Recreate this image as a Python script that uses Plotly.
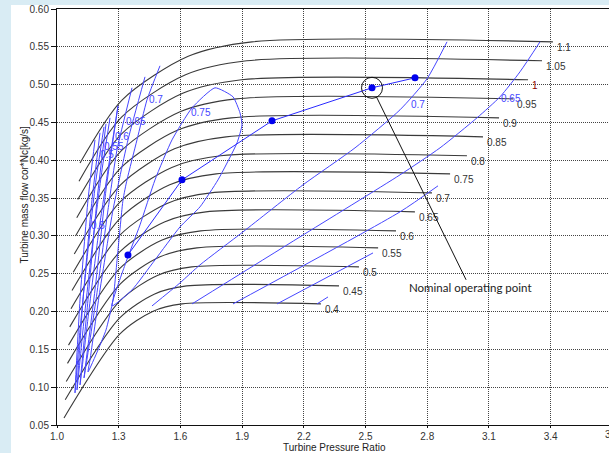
import plotly.graph_objects as go

# ---------------- data ----------------
speed_labels = ["0.4", "0.45", "0.5", "0.55", "0.6", "0.65", "0.7", "0.75",
                "0.8", "0.85", "0.9", "0.95", "1", "1.05", "1.1"]
speed_pr = [
    [1.034, 1.306, 1.465, 1.608, 2.283],
    [1.040, 1.305, 1.475, 1.630, 2.371],
    [1.045, 1.306, 1.488, 1.655, 2.468],
    [1.051, 1.308, 1.501, 1.680, 2.561],
    [1.056, 1.303, 1.508, 1.699, 2.648],
    [1.062, 1.305, 1.522, 1.724, 2.740],
    [1.068, 1.307, 1.535, 1.749, 2.823],
    [1.073, 1.309, 1.548, 1.774, 2.911],
    [1.079, 1.307, 1.558, 1.796, 2.993],
    [1.084, 1.309, 1.571, 1.822, 3.071],
    [1.090, 1.310, 1.585, 1.847, 3.149],
    [1.096, 1.312, 1.598, 1.872, 3.217],
    [1.101, 1.314, 1.611, 1.897, 3.290],
    [1.107, 1.315, 1.625, 1.922, 3.358],
    [1.112, 1.317, 1.638, 1.948, 3.411],
]
speed_flow = [
    [0.0593, 0.1704, 0.2002, 0.2101, 0.2101],
    [0.0834, 0.1916, 0.2233, 0.2339, 0.2339],
    [0.1074, 0.2141, 0.2478, 0.2590, 0.2590],
    [0.1315, 0.2365, 0.2723, 0.2842, 0.2842],
    [0.1556, 0.2564, 0.2941, 0.3066, 0.3066],
    [0.1797, 0.2789, 0.3185, 0.3318, 0.3318],
    [0.2037, 0.3014, 0.3430, 0.3569, 0.3569],
    [0.2278, 0.3238, 0.3675, 0.3820, 0.3820],
    [0.2519, 0.3450, 0.3906, 0.4059, 0.4059],
    [0.2760, 0.3675, 0.4151, 0.4310, 0.4310],
    [0.3000, 0.3900, 0.4396, 0.4561, 0.4561],
    [0.3241, 0.4125, 0.4641, 0.4812, 0.4812],
    [0.3482, 0.4350, 0.4885, 0.5064, 0.5064],
    [0.3723, 0.4574, 0.5130, 0.5315, 0.5315],
    [0.3963, 0.4799, 0.5375, 0.5566, 0.5566],
]

# efficiency contours (left island)
eff_labels = ["0.5", "0.55", "0.6", "0.65", "0.7", "0.75"]
eff_pr = [
    [1.1847, 1.1507, 1.1118, 1.0875, 1.1118, 1.1507, 1.1896, 1.2285],
    [1.2090, 1.1702, 1.1264, 1.0972, 1.1313, 1.1750, 1.2188, 1.2577],
    [1.2382, 1.1945, 1.1507, 1.1118, 1.1556, 1.2042, 1.2479, 1.2966],
    [1.2966, 1.2382, 1.1847, 1.1313, 1.1896, 1.2479, 1.2917, 1.3646],
    [1.4278, 1.3452, 1.2722, 1.2090, 1.1604, 1.1507, 1.1993, 1.2382, 1.2722,
     1.2966, 1.3209, 1.3403, 1.3889, 1.4375, 1.5007],
    [1.2674, 1.3306, 1.4035, 1.4764, 1.5591, 1.6563, 1.7681, 1.8556, 1.8896,
     1.8994, 1.8751, 1.7827, 1.6952, 1.5980, 1.4764, 1.3646, 1.2674],
]
eff_flow = [
    [0.4270, 0.3476, 0.2154, 0.0924, 0.1757, 0.2815, 0.3741, 0.4442],
    [0.4363, 0.3476, 0.2154, 0.0963, 0.1889, 0.2947, 0.3873, 0.4561],
    [0.4482, 0.3476, 0.2154, 0.1029, 0.2021, 0.3080, 0.3873, 0.4720],
    [0.4720, 0.3609, 0.2286, 0.1122, 0.2154, 0.3344, 0.4138, 0.4958],
    [0.5103, 0.4270, 0.3344, 0.2286, 0.1360, 0.1201, 0.1492, 0.1757, 0.2154,
     0.2815, 0.3476, 0.3741, 0.4270, 0.4799, 0.5249],
    [0.2074, 0.2617, 0.3146, 0.3741, 0.4270, 0.4693, 0.4958, 0.4839, 0.4627,
     0.4469, 0.4230, 0.3741, 0.3384, 0.3119, 0.2683, 0.2286, 0.2074],
]

# efficiency lines in the choke region
choke_eff_labels = ["0.7", "0.65", "", "", ""]
choke_eff_pr = [
    [1.4618, 1.5980, 1.6952, 1.9042, 2.1959, 2.4487, 2.6675, 2.7987, 2.8960],
    [1.6563, 2.1813, 2.6675, 2.8619, 3.0418, 3.1536, 3.2509, 3.3481],
    [1.8556, 2.6675, 2.8522],
    [2.0695, 2.5362],
    [2.2640, 2.3175],
]
choke_eff_flow = [
    [0.2074, 0.2379, 0.2617, 0.3053, 0.3675, 0.4164, 0.4667, 0.5077, 0.5566],
    [0.2101, 0.2987, 0.3807, 0.4164, 0.4561, 0.4839, 0.5170, 0.5566],
    [0.2101, 0.3318, 0.3662],
    [0.2101, 0.2775],
    [0.2101, 0.2193],
]

# operating line
op_pr = [1.345, 1.6077, 2.0452, 2.5314, 2.7404]
op_flow = [0.2749, 0.3741, 0.4521, 0.4958, 0.5090]
nominal_index = 3

x_ticks = [1.0, 1.3, 1.6, 1.9, 2.2, 2.5, 2.8, 3.1, 3.4]
y_ticks = [0.05, 0.10, 0.15, 0.20, 0.25, 0.30, 0.35, 0.40, 0.45, 0.50, 0.55, 0.60]

# label placement (layout, not data)
eff_label_pos = [  # (text, pr, flow)
    ("0.7", 1.4813, 0.4799), ("0.65", 1.3841, 0.4508), ("0.6", 1.3160, 0.4310),
    ("0.55", 1.2771, 0.4177), ("0.5", 1.2431, 0.4072), ("0.5", 1.1993, 0.3132),
    ("0.75", 1.7001, 0.4627), ("0.7", 2.755, 0.4733), ("0.65", 3.2071, 0.4812),
]

# ---------------- figure ----------------
BLUE = "#4646ff"
FONT = "Liberation Sans, Arial, sans-serif"

fig = go.Figure()

for lab, xs, ys in zip(speed_labels, speed_pr, speed_flow):
    fig.add_trace(go.Scatter(x=xs, y=ys, mode="lines",
                             line=dict(color="#3a3a3a", width=1.1, shape="spline", smoothing=0.8),
                             hoverinfo="skip", name=lab))

for lab, xs, ys in zip(eff_labels, eff_pr, eff_flow):
    fig.add_trace(go.Scatter(x=xs, y=ys, mode="lines",
                             line=dict(color=BLUE, width=1, shape="spline", smoothing=0.5),
                             hoverinfo="skip", name="eff " + lab))

for lab, xs, ys in zip(choke_eff_labels, choke_eff_pr, choke_eff_flow):
    fig.add_trace(go.Scatter(x=xs, y=ys, mode="lines",
                             line=dict(color=BLUE, width=1, shape="spline", smoothing=0.6),
                             hoverinfo="skip", name="eff " + lab))

fig.add_trace(go.Scatter(x=op_pr, y=op_flow, mode="lines+markers",
                         line=dict(color="#2a2aff", width=1),
                         marker=dict(color="#0000ee", size=7),
                         name="operating line"))

fig.add_trace(go.Scatter(x=[op_pr[nominal_index]], y=[op_flow[nominal_index]], mode="markers",
                         marker=dict(symbol="circle-open", size=21, color="#111",
                                     line=dict(width=1, color="#111")),
                         name="nominal"))

annotations = []
for lab, xs, ys in zip(speed_labels, speed_pr, speed_flow):
    annotations.append(dict(x=xs[-1], y=ys[-1], text=lab, showarrow=False,
                            xanchor="left", yanchor="middle", xshift=2, yshift=-6,
                            font=dict(family=FONT, size=10,
                                      color="#8b0000" if lab == "1" else "#333")))
for txt, px, py in eff_label_pos:
    annotations.append(dict(x=px, y=py, text=txt, showarrow=False,
                            xanchor="center", yanchor="middle",
                            font=dict(family=FONT, size=10, color=BLUE)))

annotations.append(dict(x=op_pr[nominal_index], y=op_flow[nominal_index],
                        text="Nominal operating point", showarrow=True, arrowhead=0,
                        arrowwidth=1, arrowcolor="#111", ax=98, ay=200, standoff=10,
                        font=dict(family="Lato, Liberation Sans, sans-serif", size=11.5, color="#222")))

annotations.append(dict(xref="paper", yref="paper", x=-0.0725, y=0.555,
                        text="Turbine mass flow cor*Nc[kg/s]", textangle=-90, showarrow=False,
                        font=dict(family=FONT, size=10, color="#222")))
annotations.append(dict(xref="paper", yref="paper", x=0.502, y=-0.054,
                        text="Turbine Pressure Ratio", showarrow=False, yanchor="middle",
                        font=dict(family=FONT, size=10, color="#222")))
annotations.append(dict(xref="paper", yref="paper", x=1.0054, y=-0.024,
                        text="3.7", showarrow=False, yanchor="middle", xanchor="center",
                        font=dict(family=FONT, size=10, color="#333")))

shapes = [
    dict(type="rect", xref="paper", yref="paper", x0=-0.11, x1=-0.0833, y0=-0.08, y1=1.03,
         fillcolor="#d9ecf4", line=dict(width=0), layer="above"),
    dict(type="rect", xref="paper", yref="paper", x0=-0.11, x1=1.01, y0=1.0096, y1=1.03,
         fillcolor="#d9ecf4", line=dict(width=0), layer="above"),
]

fig.update_layout(
    width=609, height=453,
    margin=dict(l=57, r=0, t=9, b=28),
    paper_bgcolor="white", plot_bgcolor="white",
    showlegend=False,
    annotations=annotations,
    shapes=shapes,
    font=dict(family=FONT, size=10, color="#333"),
    xaxis=dict(range=[1.0, 1.0 + 552 / 205.7], tickvals=x_ticks,
               ticktext=[f"{v:.1f}" for v in x_ticks],
               showgrid=True, gridcolor="#444", griddash="1px,1px", gridwidth=1,
               showline=True, linecolor="#111", linewidth=1, mirror=True,
               ticks="outside", ticklen=2, tickcolor="#111", zeroline=False),
    yaxis=dict(range=[0.05, 0.60], tickvals=y_ticks,
               ticktext=[f"{v:.2f}" for v in y_ticks],
               showgrid=True, gridcolor="#444", griddash="1px,1px", gridwidth=1,
               showline=True, linecolor="#111", linewidth=1,
               ticks="outside", ticklen=5, tickcolor="#111", zeroline=False),
)

fig.write_html("out.html", config={"displayModeBar": False},
               post_script="document.body.style.margin='0';document.body.style.overflow='hidden';")
